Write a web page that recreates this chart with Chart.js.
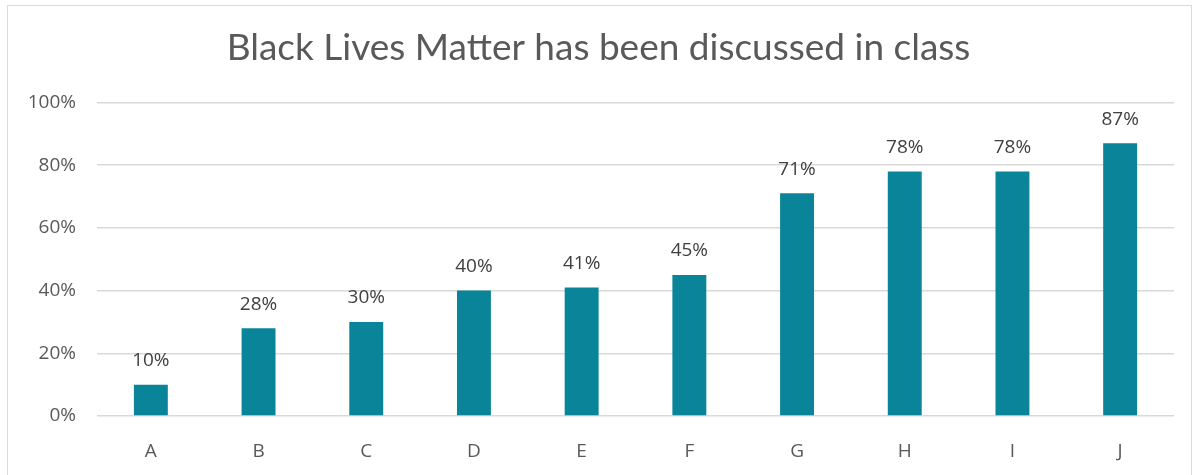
<!DOCTYPE html>
<html>
<head>
<meta charset="utf-8">
<script src="https://cdn.jsdelivr.net/npm/chart.js@4"></script>
<style>
  body { margin: 0; background: #fff; }
  #wrap { position: relative; width: 1199px; height: 475px; overflow: hidden; }
  #frame { position: absolute; left: 7px; top: 5px; width: 1183px; height: 490px; border: 1px solid #d9d9d9; }
  canvas { position: absolute; left: 0; top: 0; }
</style>
</head>
<body>
<div id="wrap">
  <div id="frame"></div>
  <canvas id="barChart" width="1199" height="475"></canvas>
</div>
<script>
var categories = ['A', 'B', 'C', 'D', 'E', 'F', 'G', 'H', 'I', 'J'];
var values = [10, 28, 30, 40, 41, 45, 71, 78, 78, 87];
var yTicks = [0, 20, 40, 60, 80, 100];

// draws the % label above each bar
var valueLabels = {
  id: 'valueLabels',
  afterDatasetsDraw: function (chart) {
    var ctx = chart.ctx;
    var meta = chart.getDatasetMeta(0);
    ctx.save();
    ctx.font = '19px "Open Sans"';
    ctx.fillStyle = '#404040';
    ctx.textAlign = 'center';
    ctx.textBaseline = 'middle';
    meta.data.forEach(function (bar, i) {
      ctx.fillText(values[i] + '%', bar.x, bar.y - 24);
    });
    ctx.restore();
  }
};

var chart = new Chart(document.getElementById('barChart').getContext('2d'), {
  type: 'bar',
  data: {
    labels: categories,
    datasets: [{
      data: values,
      backgroundColor: '#098499',
      borderWidth: 0,
      barPercentage: 0.63,
      categoryPercentage: 0.5
    }]
  },
  options: {
    responsive: false,
    animation: false,
    layout: { padding: { left: 23, right: 25, top: 0, bottom: 0 } },
    plugins: {
      legend: { display: false },
      tooltip: { enabled: false },
      title: {
        display: true,
        text: 'Black Lives Matter has been discussed in class',
        color: '#595959',
        font: { family: 'Lato', size: 37, weight: 'normal' },
        padding: { top: 26, bottom: 32 }
      }
    },
    scales: {
      x: {
        afterFit: function (axis) { axis.height = 59; },
        grid: { display: false },
        border: { display: false },
        ticks: { color: '#595959', font: { family: 'Open Sans', size: 19 }, padding: 16 }
      },
      y: {
        min: 0,
        max: 100,
        afterBuildTicks: function (axis) {
          axis.ticks = yTicks.map(function (v) { return { value: v }; });
        },
        afterFit: function (axis) { axis.width = 74; },
        grid: { color: '#d9d9d9', lineWidth: 1.5, drawTicks: false },
        border: { display: false },
        ticks: {
          color: '#595959',
          font: { family: 'Open Sans', size: 19 },
          padding: 21,
          callback: function (v) { return v + '%'; }
        }
      }
    }
  },
  plugins: [valueLabels]
});
</script>
</body>
</html>
